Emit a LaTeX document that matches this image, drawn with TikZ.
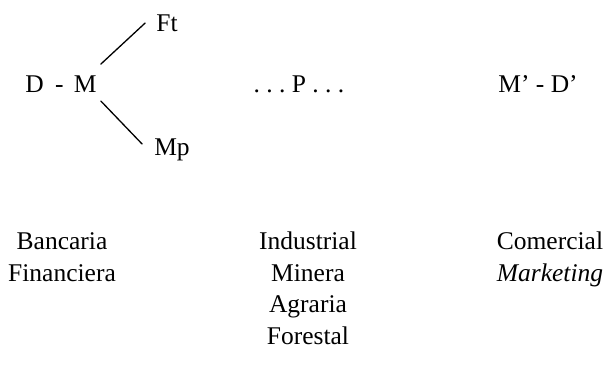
\documentclass[tikz,border=0pt]{standalone}
\usepackage{fontspec}
\setmainfont{Liberation Serif}
\begin{document}
\begin{tikzpicture}[x=1pt,y=-1pt,
  lbl/.style={anchor=base,inner sep=0pt,font=\fontsize{25.5}{30}\selectfont},
  conn/.style={line width=1.3pt,line cap=round}]
\useasboundingbox (0,0) rectangle (608,368);
\node[lbl] (dm) at (61,92) {D\hspace{0.45em}-\hspace{0.4em}M};
\node[lbl] (ft) at (167,31) {Ft};
\node[lbl] (mp) at (172,155) {Mp};
\node[lbl] (p) at (299,92) {.\ .\ .\ P\ .\ .\ .};
\node[lbl] (md) at (538,92) {M’\ -\ D’};
\draw[conn] ([shift={(4,-11)}]dm.north east) -- ([shift={(-11,-8)}]ft.base west);
\draw[conn] ([shift={(4,9)}]dm.base east) -- ([shift={(-12,-11)}]mp.base west);
% columns
\node[lbl] (c1a) at (62,249) {Bancaria};
\node[lbl] (c1b) at (62,281) {Financiera};
\node[lbl] (c2a) at (308,249) {Industrial};
\node[lbl] (c2b) at (308,281) {Minera};
\node[lbl] (c2c) at (308,312) {Agraria};
\node[lbl] (c2d) at (308,344) {Forestal};
\node[lbl] (c3a) at (550,249) {Comercial};
\node[lbl] (c3b) at (550,281) {\itshape Marketing};
\end{tikzpicture}
\end{document}
